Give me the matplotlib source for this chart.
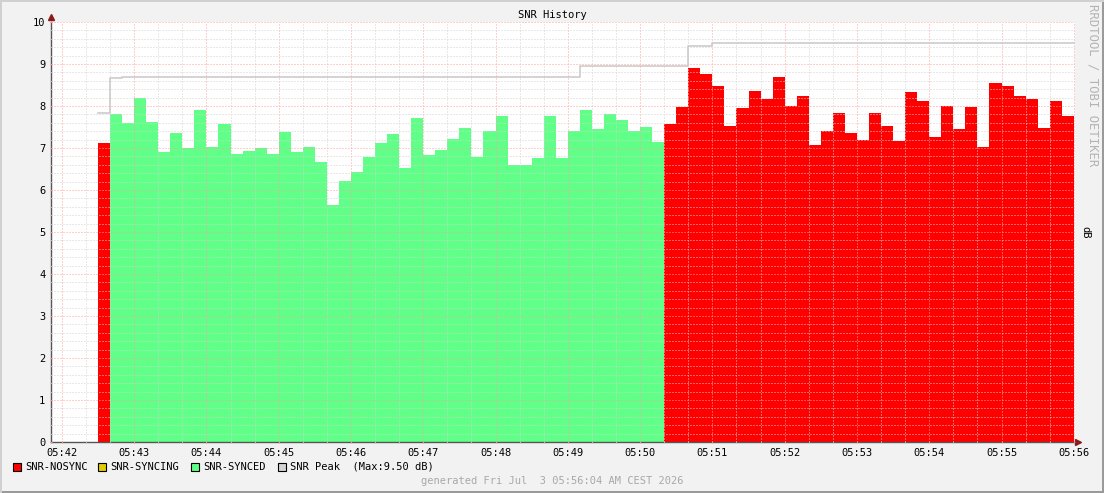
import matplotlib
matplotlib.use("Agg")
import matplotlib.pyplot as plt
from matplotlib.patches import Rectangle
from matplotlib.ticker import MultipleLocator, FuncFormatter

plt.rcParams['font.family'] = ['DejaVu Sans Mono', 'DejaVu Sans']
plt.rcParams['font.size'] = 7.5

# samples every 10 s, first one at 05:42:30 (x = seconds after 05:42:00)
t_start = 30
step = 10
snr = [7.12, 7.81, 7.60, 8.19, 7.62, 6.90, 7.36, 7.00, 7.90, 7.02, 7.57, 6.86, 6.93, 7.00, 6.86, 7.38, 6.90,
       7.02, 6.67, 5.64, 6.21, 6.43, 6.79, 7.12, 7.33, 6.52, 7.71, 6.83, 6.95, 7.21, 7.48, 6.79, 7.40,
       7.76, 6.60, 6.60, 6.76, 7.76, 6.76, 7.40, 7.90, 7.45, 7.81, 7.67, 7.40, 7.50, 7.14, 7.57, 7.98,
       8.90, 8.76, 8.48, 7.52, 7.95, 8.36, 8.17, 8.69, 8.00, 8.24, 7.07, 7.40, 7.83, 7.36, 7.19, 7.83,
       7.52, 7.17, 8.33, 8.12, 7.26, 8.00, 7.45, 7.98, 7.02, 8.55, 8.48, 8.24, 8.17, 7.48, 8.12, 7.76]
# sync state per sample: first sample NOSYNC, then SYNCED run, then NOSYNC again
state_runs = [("NOSYNC", 1), ("SYNCED", 46), ("NOSYNC", 34)]
# peak line: (sample index where it changes, value)
peak_steps = [(0, 7.83), (1, 8.66), (2, 8.68), (40, 8.95), (49, 9.43), (51, 9.50)]
peak_max = 9.50

colors = {"NOSYNC": "#ff0000", "SYNCING": "#e0cc00", "SYNCED": "#60ff88", "PEAK": "#c8c8c8"}

state = []
for name, n in state_runs:
    state += [name] * n
times = [t_start + step * i for i in range(len(snr))]
t_end = times[-1] + step

W, H = 1104, 493
fig = plt.figure(figsize=(W / 100, H / 100), dpi=100, facecolor="#f2f2f2")
ax = fig.add_axes([51 / W, (H - 442) / H, (1075 - 51) / W, (442 - 22) / H])
ax.set_facecolor("white")

for name in ["NOSYNC", "SYNCING", "SYNCED"]:
    xs = [t for t, s in zip(times, state) if s == name]
    ys = [v for v, s in zip(snr, state) if s == name]
    if xs:
        ax.bar(xs, ys, width=step, align="edge", color=colors[name], linewidth=0, zorder=1)

px = [t_start + step * i for i, _ in peak_steps] + [t_end]
py = [v for _, v in peak_steps] + [peak_steps[-1][1]]
ax.step(px, py, where="post", color=colors["PEAK"], linewidth=1.1, zorder=3)

ax.set_xlim(-9, 841)
ax.set_ylim(0, 10)
ax.xaxis.set_major_locator(MultipleLocator(60))
ax.xaxis.set_minor_locator(MultipleLocator(20))
ax.yaxis.set_major_locator(MultipleLocator(1))
ax.yaxis.set_minor_locator(MultipleLocator(0.2))
ax.xaxis.set_major_formatter(FuncFormatter(lambda v, p: "05:%02d" % (42 + int(round(v)) // 60)))
ax.yaxis.set_major_formatter(FuncFormatter(lambda v, p: "%d" % round(v)))

ax.set_axisbelow(False)
ax.grid(which="major", color="#ffa0a0", linestyle=(0, (1, 2)), linewidth=0.72)
ax.grid(which="minor", color="#d2d2d2", linestyle=(0, (1, 2)), linewidth=0.72)

for s in ["top", "right"]:
    ax.spines[s].set_visible(False)
for s in ["left", "bottom"]:
    ax.spines[s].set_color("#555555")
    ax.spines[s].set_linewidth(1.0)
ax.tick_params(which="major", length=2, direction="inout", color="#ff9090", pad=3, labelcolor="black")
ax.tick_params(which="minor", length=2, direction="inout", color="#c0c0c0")
ax.plot([0], [1.012], marker="^", markersize=4.5, color="#8b1a1a", transform=ax.transAxes, clip_on=False)
ax.plot([1.003], [0], marker=">", markersize=4.5, color="#8b1a1a", transform=ax.transAxes, clip_on=False)

fig.text(552 / W, 1 - 15 / H, "SNR History", ha="center", va="center")
fig.text(1085 / W, 1 - 232 / H, "dB", ha="center", va="center", rotation=270)
fig.text(1093 / W, 1 - 4 / H, "RRDTOOL / TOBI OETIKER", ha="center", va="top", rotation=270,
         color="#b4b4b4", fontsize=8.8)

legend = [("NOSYNC", 13, "SNR-NOSYNC"), ("SYNCING", 98, "SNR-SYNCING"),
          ("SYNCED", 191, "SNR-SYNCED"), ("PEAK", 278, "SNR Peak  (Max:%.2f dB)" % peak_max)]
for key, x0, label in legend:
    fc = "#d4d4d4" if key == "PEAK" else colors[key]
    fig.add_artist(Rectangle((x0 / W, 1 - 471 / H), 8 / W, 8 / H, transform=fig.transFigure,
                             facecolor=fc, edgecolor="black", linewidth=0.8))
    fig.text((x0 + 12) / W, 1 - 466.5 / H, label, ha="left", va="center")

fig.text(552 / W, 1 - 481 / H, "generated Fri Jul  3 05:56:04 AM CEST 2026",
         ha="center", va="center", color="#a8a8a8")

# frame around the image
fig.add_artist(Rectangle((0, 0), 1, 2 / H, transform=fig.transFigure, color="#9a9a9a", lw=0))
fig.add_artist(Rectangle((1 - 2 / W, 0), 2 / W, 1, transform=fig.transFigure, color="#9a9a9a", lw=0))
fig.add_artist(Rectangle((0, 1 - 2 / H), 1, 2 / H, transform=fig.transFigure, color="#d0d0d0", lw=0))
fig.add_artist(Rectangle((0, 0), 2 / W, 1, transform=fig.transFigure, color="#d0d0d0", lw=0))

fig.savefig("out.png", dpi=100, facecolor=fig.get_facecolor())
